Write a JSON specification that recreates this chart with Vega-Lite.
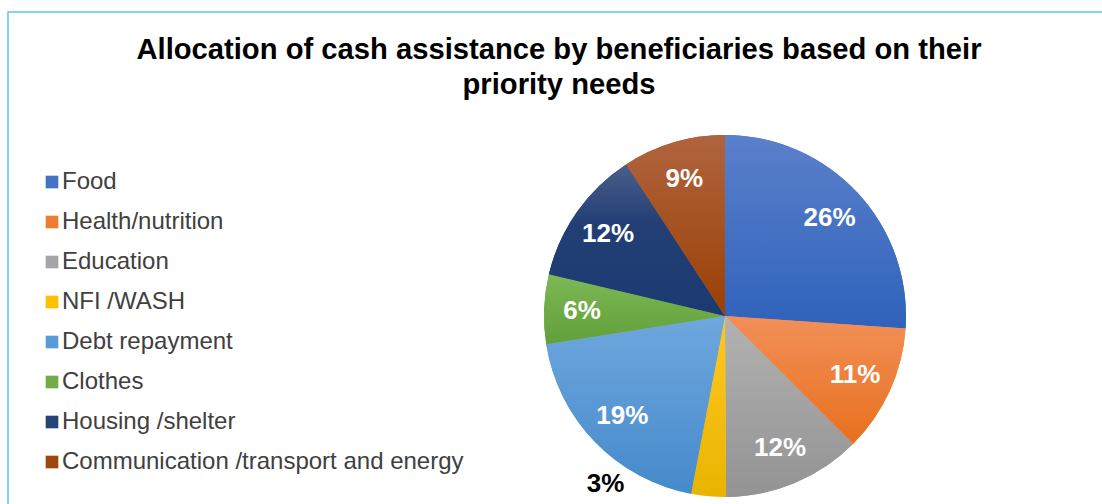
{
  "$schema": "https://vega.github.io/schema/vega-lite/v6.json",
  "autosize": {"type": "none"},
  "width": 1434,
  "height": 608,
  "padding": {"left": 8, "top": 12, "right": -340, "bottom": -116},
  "background": "white",
  "view": {"stroke": "#5ac8f0", "strokeWidth": 1.5, "fill": "white"},
  "config": {
    "font": "Liberation Sans"
  },
  "title": {
    "text": ["Allocation of cash assistance by beneficiaries based on their", "priority needs"],
    "fontSize": 29.2,
    "fontWeight": "bold",
    "font": "Liberation Sans",
    "color": "#000000",
    "anchor": "middle",
    "dx": -166,
    "offset": -88,
    "lineHeight": 35
  },
  "data": {
    "values": [
      {"idx": 1, "category": "Food", "value": 26.1, "label": "26%"},
      {"idx": 2, "category": "Health/nutrition", "value": 11.4, "label": "11%"},
      {"idx": 3, "category": "Education", "value": 12.4, "label": "12%"},
      {"idx": 4, "category": "NFI /WASH", "value": 3.1, "label": "3%"},
      {"idx": 5, "category": "Debt repayment", "value": 19.5, "label": "19%"},
      {"idx": 6, "category": "Clothes", "value": 6.2, "label": "6%"},
      {"idx": 7, "category": "Housing /shelter", "value": 12.1, "label": "12%"},
      {"idx": 8, "category": "Communication /transport and energy", "value": 9.2, "label": "9%"}
    ]
  },
  "transform": [
    {"stack": "value", "groupby": [], "sort": [{"field": "idx", "order": "ascending"}], "as": ["v0", "v1"]}
  ],
  "layer": [
    {
      "mark": {"type": "arc", "radius": 181},
      "encoding": {
        "theta": {"field": "v0", "type": "quantitative", "scale": {"domain": [0, 100]}},
        "theta2": {"field": "v1"},
        "color": {
          "field": "category",
          "type": "nominal",
          "sort": ["Food", "Health/nutrition", "Education", "NFI /WASH", "Debt repayment", "Clothes", "Housing /shelter", "Communication /transport and energy"],
          "scale": {
            "domain": ["Food", "Health/nutrition", "Education", "NFI /WASH", "Debt repayment", "Clothes", "Housing /shelter", "Communication /transport and energy"],
            "range": ["#4472c4", "#ed7d31", "#a5a5a5", "#ffc000", "#5b9bd5", "#70ad47", "#264478", "#9e480e"]
          },
          "legend": {
            "title": null,
            "orient": "none",
            "legendX": 32,
            "legendY": 158,
            "padding": 0,
            "symbolType": "square",
            "symbolSize": 160,
            "symbolStrokeWidth": 0,
            "labelFontSize": 24,
            "labelFont": "Liberation Sans",
            "labelColor": "#404040",
            "labelOffset": -2,
            "rowPadding": 16,
            "labelLimit": 600
          }
        }
      }
    },
    {
      "transform": [{"filter": "datum.category === 'Food'"}],
      "mark": {"type": "arc", "radius": 181, "color": {"gradient": "linear", "x1": 0, "y1": 0, "x2": 0, "y2": 1, "stops": [{"offset": 0, "color": "#5b80cc"}, {"offset": 1, "color": "#2f62bb"}]}},
      "encoding": {"theta": {"field": "v0", "type": "quantitative"}, "theta2": {"field": "v1"}}
    },
    {
      "transform": [{"filter": "datum.category === 'Health/nutrition'"}],
      "mark": {"type": "arc", "radius": 181, "color": {"gradient": "linear", "x1": 0, "y1": 0, "x2": 0, "y2": 1, "stops": [{"offset": 0, "color": "#f29058"}, {"offset": 1, "color": "#e8701e"}]}},
      "encoding": {"theta": {"field": "v0", "type": "quantitative"}, "theta2": {"field": "v1"}}
    },
    {
      "transform": [{"filter": "datum.category === 'Education'"}],
      "mark": {"type": "arc", "radius": 181, "color": {"gradient": "linear", "x1": 0, "y1": 0, "x2": 0, "y2": 1, "stops": [{"offset": 0, "color": "#b2b2b2"}, {"offset": 1, "color": "#939393"}]}},
      "encoding": {"theta": {"field": "v0", "type": "quantitative"}, "theta2": {"field": "v1"}}
    },
    {
      "transform": [{"filter": "datum.category === 'NFI /WASH'"}],
      "mark": {"type": "arc", "radius": 181, "color": {"gradient": "linear", "x1": 0, "y1": 0, "x2": 0, "y2": 1, "stops": [{"offset": 0, "color": "#ffc822"}, {"offset": 1, "color": "#e9b400"}]}},
      "encoding": {"theta": {"field": "v0", "type": "quantitative"}, "theta2": {"field": "v1"}}
    },
    {
      "transform": [{"filter": "datum.category === 'Debt repayment'"}],
      "mark": {"type": "arc", "radius": 181, "color": {"gradient": "linear", "x1": 0, "y1": 0, "x2": 0, "y2": 1, "stops": [{"offset": 0, "color": "#6fa7de"}, {"offset": 1, "color": "#458acb"}]}},
      "encoding": {"theta": {"field": "v0", "type": "quantitative"}, "theta2": {"field": "v1"}}
    },
    {
      "transform": [{"filter": "datum.category === 'Clothes'"}],
      "mark": {"type": "arc", "radius": 181, "color": {"gradient": "linear", "x1": 0, "y1": 0, "x2": 0, "y2": 1, "stops": [{"offset": 0, "color": "#7cb855"}, {"offset": 1, "color": "#62a03a"}]}},
      "encoding": {"theta": {"field": "v0", "type": "quantitative"}, "theta2": {"field": "v1"}}
    },
    {
      "transform": [{"filter": "datum.category === 'Housing /shelter'"}],
      "mark": {"type": "arc", "radius": 181, "color": {"gradient": "linear", "x1": 0, "y1": 0, "x2": 0, "y2": 1, "stops": [{"offset": 0, "color": "#4a5e8a"}, {"offset": 0.4, "color": "#223e75"}, {"offset": 1, "color": "#1c3a72"}]}},
      "encoding": {"theta": {"field": "v0", "type": "quantitative"}, "theta2": {"field": "v1"}}
    },
    {
      "transform": [{"filter": "datum.category === 'Communication /transport and energy'"}],
      "mark": {"type": "arc", "radius": 181, "color": {"gradient": "linear", "x1": 0, "y1": 0, "x2": 0, "y2": 1, "stops": [{"offset": 0, "color": "#b0643e"}, {"offset": 1, "color": "#9b3f04"}]}},
      "encoding": {"theta": {"field": "v0", "type": "quantitative"}, "theta2": {"field": "v1"}}
    },
    {
      "mark": {"type": "text", "radius": 143, "font": "Liberation Sans", "fontWeight": "bold", "fontSize": 26, "color": "white"},
      "encoding": {
        "theta": {"field": "value", "type": "quantitative", "stack": true},
        "order": {"field": "idx", "type": "quantitative"},
        "text": {"field": "label"},
        "opacity": {"condition": {"test": "datum.category === 'NFI /WASH'", "value": 0}, "value": 1}
      }
    },
    {
      "mark": {"type": "text", "radius": 169, "dx": -104, "font": "Liberation Sans", "fontWeight": "bold", "fontSize": 26, "color": "black"},
      "encoding": {
        "theta": {"field": "value", "type": "quantitative", "stack": true},
        "order": {"field": "idx", "type": "quantitative"},
        "text": {"field": "label"},
        "opacity": {"condition": {"test": "datum.category === 'NFI /WASH'", "value": 1}, "value": 0}
      }
    }
  ]
}
